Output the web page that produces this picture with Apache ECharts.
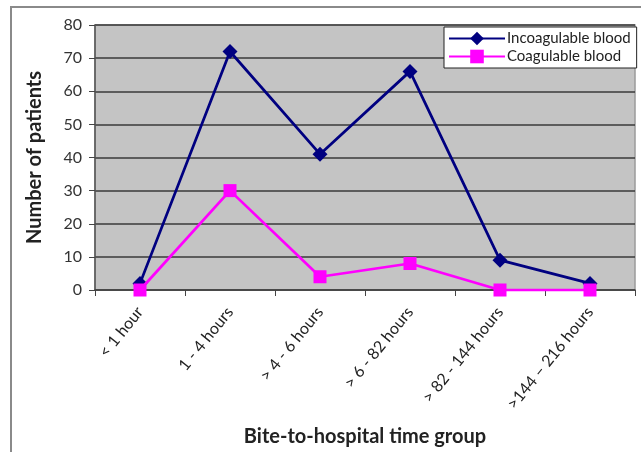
<!DOCTYPE html>
<html>
<head>
<meta charset="utf-8">
<script src="https://cdn.jsdelivr.net/npm/echarts@6/dist/echarts.min.js"></script>
<style>
  html, body { margin: 0; padding: 0; background: #fff; }
  #chart { width: 641px; height: 452px; }
</style>
</head>
<body>
<div id="chart"></div>
<script>
// Time from snake bite to hospital arrival
const timeGroups = ['< 1 hour', '1 - 4 hours', '> 4 - 6 hours', '> 6 - 82 hours', '> 82 - 144 hours', '>144 \u2013 216 hours'];
const incoagulable = [2, 72, 41, 66, 9, 2];
const coagulable = [0, 30, 4, 8, 0, 0];
const yTicks = [0, 10, 20, 30, 40, 50, 60, 70, 80];

const chart = echarts.init(document.getElementById('chart'), null, { renderer: 'canvas' });
const font = 'Lato, "Open Sans", sans-serif';

chart.setOption({
  animation: false,
  backgroundColor: '#fff',
  graphic: [{
    type: 'rect',
    shape: { x: 11, y: 7, width: 640, height: 460 },
    style: { fill: 'none', stroke: '#8a8a8a', lineWidth: 2 },
    silent: true,
    z: -1
  }],
  grid: {
    left: 95, top: 25, right: 6, bottom: 162,
    show: true,
    backgroundColor: '#c4c4c4',
    borderColor: '#9a9a9a',
    borderWidth: 1.5
  },
  legend: {
    orient: 'vertical',
    left: 444, top: 27,
    width: 191,
    padding: [4, 6, 4, 4],
    backgroundColor: '#fff',
    borderColor: '#222',
    borderWidth: 1,
    itemWidth: 56, itemHeight: 17, itemGap: 3,
    textStyle: { fontFamily: font, fontSize: 15, color: '#222', padding: [0, 0, 0, -3] },
    data: ['Incoagulable blood', 'Coagulable blood']
  },
  xAxis: {
    type: 'category',
    data: timeGroups,
    boundaryGap: true,
    name: 'Bite-to-hospital time group',
    nameLocation: 'middle',
    nameGap: 137,
    nameTextStyle: { fontFamily: font, fontSize: 20, fontWeight: 'bold', color: '#222' },
    axisLine: { lineStyle: { color: '#444', width: 1.5 } },
    axisTick: { show: true, length: 6, lineStyle: { color: '#444' } },
    axisLabel: { rotate: 51, margin: 19, fontFamily: font, fontSize: 16, color: '#222', interval: 0 },
    splitLine: { show: false }
  },
  yAxis: {
    type: 'value',
    min: yTicks[0], max: yTicks[yTicks.length - 1], interval: 10,
    name: 'Number of patients',
    nameLocation: 'middle',
    nameGap: 50,
    nameTextStyle: { fontFamily: font, fontSize: 20, fontWeight: 'bold', color: '#222' },
    axisLine: { show: true, lineStyle: { color: '#555', width: 1.5 } },
    axisTick: { show: true, length: 6, lineStyle: { color: '#444' } },
    axisLabel: { fontFamily: font, fontSize: 16, color: '#333', margin: 13 },
    splitLine: { lineStyle: { color: '#3a3a3a', width: 1.5 } }
  },
  series: [
    {
      name: 'Incoagulable blood',
      type: 'line',
      data: incoagulable,
      symbol: 'diamond',
      symbolSize: 15,
      lineStyle: { color: '#000080', width: 2.75 },
      itemStyle: { color: '#000080' },
      z: 2
    },
    {
      name: 'Coagulable blood',
      type: 'line',
      data: coagulable,
      symbol: 'rect',
      symbolSize: 13,
      lineStyle: { color: '#ff00ff', width: 2.75 },
      itemStyle: { color: '#ff00ff' },
      z: 3
    }
  ]
});
</script>
</body>
</html>
